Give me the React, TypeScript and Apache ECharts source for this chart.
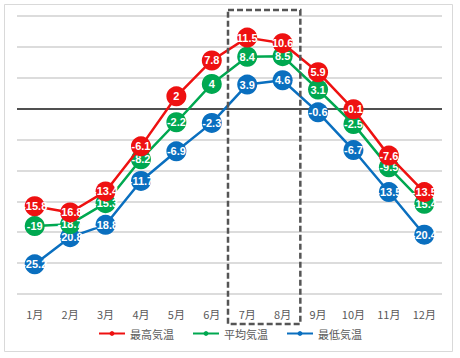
import React, { useEffect, useRef } from "react";
import * as echarts from "echarts";

const months = ["1月", "2月", "3月", "4月", "5月", "6月", "7月", "8月", "9月", "10月", "11月", "12月"];
const maxTemp = [-15.8, -16.8, -13.4, -6.1, 2, 7.8, 11.5, 10.6, 5.9, -0.1, -7.6, -13.5];
const avgTemp = [-19, -18.7, -15.3, -8.2, -2.2, 4, 8.4, 8.5, 3.1, -2.5, -9.5, -15.4];
const minTemp = [-25.2, -20.8, -18.8, -11.7, -6.9, -2.3, 3.9, 4.6, -0.6, -6.7, -13.5, -20.4];
const seriesNames = ["最高気温", "平均気温", "最低気温"];
const colors = ["#EE1111", "#00A850", "#0A6FBF"];
const highlight = ["7月", "8月"];

export default function App() {
  const ref = useRef<HTMLDivElement>(null);
  useEffect(() => {
    if (!ref.current) return;
    const chart = echarts.init(ref.current, undefined, { renderer: "svg" });
    const datas = [maxTemp, avgTemp, minTemp];
    const font = "'Liberation Sans', Arial, sans-serif";
    const series: any[] = datas.map((d, i) => ({
      name: seriesNames[i],
      type: "line",
      data: d,
      symbol: "circle",
      symbolSize: 20,
      z: 3 + (2 - i),
      lineStyle: { color: colors[i], width: 2.5 },
      itemStyle: { color: colors[i] },
      label: {
        show: true,
        position: "inside",
        color: "#fff",
        fontSize: 11,
        fontWeight: "bold",
        fontFamily: font,
      },
      markLine:
        i === 0
          ? {
              silent: true,
              symbol: "none",
              label: { show: false },
              lineStyle: { color: "#222", width: 1.5, type: "solid" },
              data: [{ yAxis: 0 }],
              z: 1,
            }
          : undefined,
    }));
    chart.setOption({
      animation: false,
      grid: { left: 17, right: 18, top: 16, bottom: 64 },
      legend: {
        bottom: 14,
        left: "center",
        itemWidth: 26,
        itemHeight: 6,
        itemGap: 18,
        textStyle: { color: "#595959", fontSize: 11, fontFamily: "'Noto Sans CJK JP', sans-serif" },
        data: seriesNames,
      },
      xAxis: {
        type: "category",
        data: months,
        boundaryGap: true,
        axisLine: { show: false },
        axisTick: { show: false },
        axisLabel: { color: "#595959", fontSize: 11, margin: 14, fontFamily: "'Noto Sans CJK JP', sans-serif" },
      },
      yAxis: {
        type: "value",
        min: -30,
        max: 15,
        interval: 5,
        axisLabel: { show: false },
        axisLine: { show: false },
        axisTick: { show: false },
        splitLine: { lineStyle: { color: "#D0D0D0", width: 1.5 } },
      },
      series,
    });
    const x0 = chart.convertToPixel({ xAxisIndex: 0 }, highlight[0]) as number;
    const x1 = chart.convertToPixel({ xAxisIndex: 0 }, highlight[1]) as number;
    const band = x1 - x0;
    chart.setOption({
      graphic: [
        {
          type: "rect",
          shape: { x: 4.5, y: 4.5, width: 448, height: 347 },
          style: { fill: "none", stroke: "#D9D9D9", lineWidth: 1 },
          silent: true,
          z: 0,
        },
        {
          type: "rect",
          shape: { x: x0 - band / 2 - 1.5, y: 10, width: band * 2 + 1.5, height: 314 },
          style: { fill: "none", stroke: "#555", lineWidth: 2.5, lineDash: [6, 3] },
          silent: true,
          z: 10,
        },
      ],
    });
    return () => chart.dispose();
  }, []);
  return (
    <div
      ref={ref}
      style={{ position: "fixed", left: 0, top: 0, width: 460, height: 358, background: "#fff" }}
    />
  );
}
